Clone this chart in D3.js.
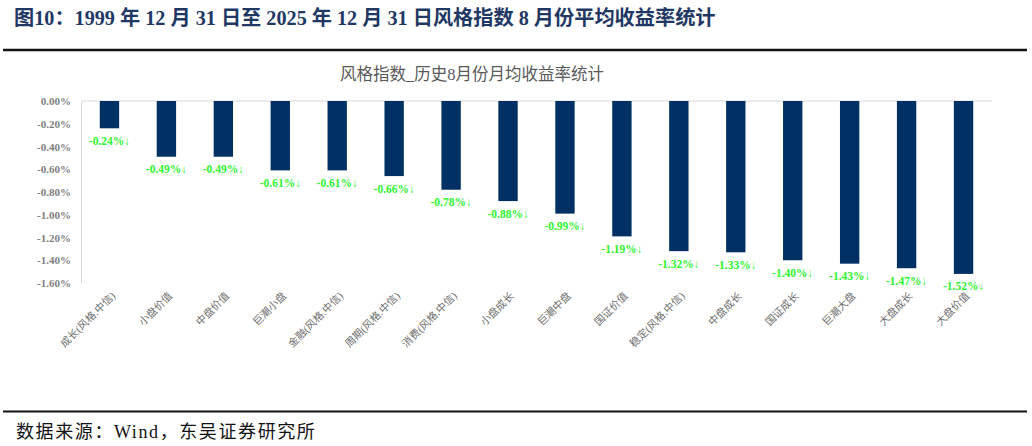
<!DOCTYPE html>
<html>
<head>
<meta charset="utf-8">
<script src="https://cdn.jsdelivr.net/npm/d3@7/dist/d3.min.js"></script>
<style>
  html, body { margin: 0; padding: 0; background: #fff; }
  svg { display: block; }
</style>
</head>
<body>
<svg id="chart" width="1032" height="446"></svg>
<script>
const headerTitle = "图10：1999 年 12 月 31 日至 2025 年 12 月 31 日风格指数 8 月份平均收益率统计";
const chartTitle = "风格指数_历史8月份月均收益率统计";
const sourceNote = "数据来源：Wind，东吴证券研究所";
const categories = ["成长(风格.中信)", "小盘价值", "中盘价值", "巨潮小盘", "金融(风格.中信)", "周期(风格.中信)", "消费(风格.中信)", "小盘成长", "巨潮中盘", "国证价值", "稳定(风格.中信)", "中盘成长", "国证成长", "巨潮大盘", "大盘成长", "大盘价值"];
const values = [-0.24, -0.49, -0.49, -0.61, -0.61, -0.66, -0.78, -0.88, -0.99, -1.19, -1.32, -1.33, -1.40, -1.43, -1.47, -1.52];
const yTicks = [0, -0.2, -0.4, -0.6, -0.8, -1.0, -1.2, -1.4, -1.6];

const svg = d3.select("#chart");
const serif = "'Liberation Serif', 'Times New Roman', 'Noto Sans CJK SC', serif";
const pct = v => d3.format(".2f")(v).replace("\u2212", "-") + "%";

// header
svg.append("text")
  .attr("x", 14).attr("y", 18).attr("dy", "0.35em")
  .attr("font-family", serif).attr("font-weight", "bold")
  .attr("font-size", 20.2).attr("fill", "#1f3864")
  .text(headerTitle);
svg.append("line").attr("x1", 3).attr("x2", 1027).attr("y1", 50).attr("y2", 50)
  .attr("stroke", "#111").attr("stroke-width", 2.5);
svg.append("line").attr("x1", 3).attr("x2", 1027).attr("y1", 411.5).attr("y2", 411.5)
  .attr("stroke", "#111").attr("stroke-width", 2);
svg.append("text")
  .attr("x", 16).attr("y", 432).attr("dy", "0.35em")
  .attr("font-family", serif).attr("font-size", 18).attr("letter-spacing", 1.6).attr("fill", "#111")
  .text(sourceNote);

// chart title
svg.append("text")
  .attr("x", 472).attr("y", 74).attr("dy", "0.35em")
  .attr("text-anchor", "middle")
  .attr("font-family", serif).attr("font-size", 16.5).attr("fill", "#595959")
  .text(chartTitle);

const x = d3.scaleBand().domain(categories).range([81, 992]).paddingInner(0.66).paddingOuter(0.33);
const y = d3.scaleLinear().domain([-1.6, 0]).range([283, 101]);

// y axis
const yAxis = svg.append("g").attr("transform", "translate(81,0)")
  .call(d3.axisLeft(y).tickValues(yTicks).tickSize(0).tickPadding(10)
    .tickFormat(d => pct(d === 0 ? 0 : d)));
yAxis.select(".domain").attr("stroke", "#d9d9d9");
yAxis.selectAll("text")
  .attr("font-family", serif).attr("font-weight", "bold")
  .attr("font-size", 11).attr("fill", "#7f7f7f");

// zero line
svg.append("line").attr("x1", 81).attr("x2", 992).attr("y1", y(0)).attr("y2", y(0))
  .attr("stroke", "#d9d9d9").attr("stroke-width", 1);

// bars
svg.append("g").selectAll("rect").data(values).join("rect")
  .attr("x", (d, i) => x(categories[i]))
  .attr("width", x.bandwidth())
  .attr("y", y(0))
  .attr("height", d => y(d) - y(0))
  .attr("fill", "#003064");

// data labels
svg.append("g").selectAll("text").data(values).join("text")
  .attr("x", (d, i) => x(categories[i]) + x.bandwidth() / 2)
  .attr("y", d => y(d) + 12.5).attr("dy", "0.35em")
  .attr("text-anchor", "middle")
  .attr("font-family", serif).attr("font-weight", "bold")
  .attr("font-size", 11.5).attr("fill", "#2ef52e")
  .text(d => pct(d) + "↓");

// x labels
svg.append("g").selectAll("text").data(categories).join("text")
  .attr("transform", d => `translate(${x(d) + x.bandwidth() / 2 + 4},${294}) rotate(-45)`)
  .attr("dy", "0.35em")
  .attr("text-anchor", "end")
  .attr("font-family", serif).attr("font-size", 10.5).attr("fill", "#6f6f6f")
  .text(d => d);
</script>
</body>
</html>
